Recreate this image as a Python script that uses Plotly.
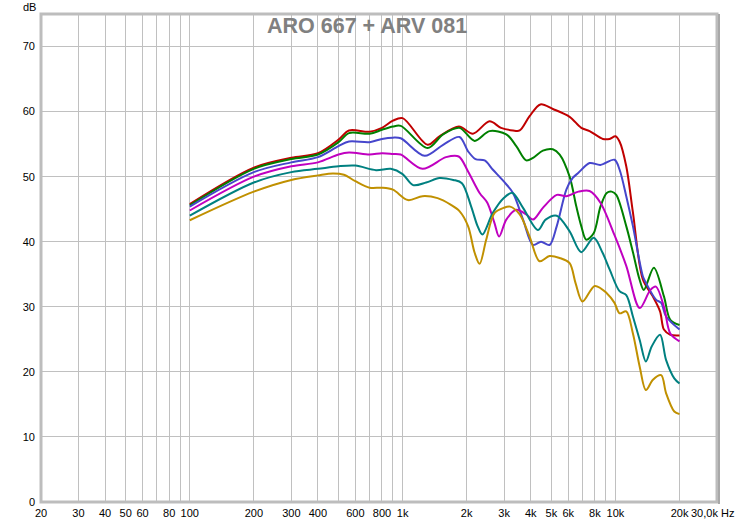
import math
import plotly.graph_objects as go

# ---------------- data ----------------
f_red = [100, 200, 300, 400, 500, 560, 700, 800, 900, 1000, 1310, 1490, 1840, 2140, 2560, 2900, 3300, 3550,
         3950, 4440, 5080, 6090, 6910, 7560, 8730, 9390, 10000, 10450, 11240, 12080, 13450, 14980, 16200,
         16900, 18100, 20000]
db_red = [45.8, 51.4, 52.9, 53.6, 55.7, 57.1, 56.9, 57.5, 58.6, 59.0, 54.9, 56.2, 57.7, 56.6, 58.5, 57.5, 57.1,
          57.1, 59.3, 61.1, 60.4, 59.2, 57.5, 57.0, 55.8, 55.8, 56.2, 55.4, 51.6, 44.5, 34.2, 31.6, 29.3,
          26.5, 25.7, 25.6]

f_green = [100, 200, 300, 400, 500, 560, 700, 800, 900, 980, 1310, 1550, 1850, 2180, 2560, 3070, 3420, 3810,
           4100, 4560, 5080, 5470, 6090, 6550, 6910, 7290, 7900, 8500, 9100, 9600, 10090, 11240, 12100,
           12980, 13600, 15150, 16900, 18100, 20000]
db_green = [45.6, 51.2, 52.7, 53.4, 55.3, 56.7, 56.6, 57.2, 57.7, 57.8, 54.4, 56.5, 57.5, 55.5, 57.0, 56.5,
            54.7, 52.5, 52.9, 54.0, 54.2, 53.4, 50.0, 45.4, 42.4, 40.3, 41.3, 45.4, 47.5, 47.7, 47.2, 42.4,
            38.3, 34.2, 32.6, 36.0, 31.6, 28.0, 27.2]

f_blue = [100, 200, 300, 400, 500, 560, 700, 800, 900, 980, 1270, 1550, 1850, 2030, 2200, 2430, 2650, 2980,
          3300, 3680, 4100, 4470, 4900, 5300, 5880, 6300, 6700, 7560, 8500, 9900, 10450, 11240, 12080,
          13450, 13900, 15500, 16400, 17300, 20000]
db_blue = [45.4, 50.7, 52.2, 53.0, 54.7, 55.4, 55.3, 55.8, 56.0, 55.9, 53.2, 54.9, 56.1, 53.9, 52.7, 52.5,
           51.1, 49.3, 47.5, 43.4, 39.5, 40.0, 39.5, 42.4, 48.0, 49.8, 50.6, 52.1, 51.8, 52.6, 51.1, 47.0,
           42.4, 34.7, 33.7, 31.1, 30.6, 28.5, 26.5]

f_magenta = [100, 200, 300, 400, 500, 560, 700, 800, 900, 980, 1240, 1600, 1835, 2030, 2300, 2500, 2700, 2840,
             3070, 3420, 3810, 4100, 4560, 5300, 5880, 6700, 7560, 8500, 9900, 11240, 13000, 14600, 15500,
             16900, 18100, 20000]
db_magenta = [44.8, 50.0, 51.6, 52.2, 53.4, 53.7, 53.4, 53.6, 53.5, 53.4, 51.2, 53.0, 53.1, 50.8, 47.5, 46.0,
              42.9, 40.8, 43.4, 44.9, 44.2, 43.4, 45.2, 47.2, 47.0, 47.7, 47.8, 46.0, 41.0, 36.3, 29.8, 32.6,
              33.1, 30.0, 25.9, 24.7]

f_teal = [100, 200, 300, 400, 500, 600, 750, 880, 1000, 1120, 1290, 1490, 1730, 1900, 2100, 2250, 2370, 2650,
          2980, 3280, 3680, 4320, 4700, 5300, 6090, 6910, 7900, 8700, 9400, 10450, 11240, 12080, 13000,
          13900, 14800, 16200, 17300, 18900, 20000]
db_teal = [44.0, 49.1, 50.7, 51.2, 51.6, 51.7, 51.0, 51.2, 50.4, 48.7, 49.1, 49.8, 49.5, 49.0, 45.4, 42.4,
           41.1, 44.4, 46.7, 47.5, 45.2, 41.8, 43.4, 44.0, 41.6, 38.4, 40.6, 38.3, 35.7, 32.4, 31.8, 28.5,
           24.9, 21.6, 23.9, 25.7, 21.8, 19.0, 18.2]

f_gold = [100, 200, 300, 400, 470, 530, 600, 700, 800, 900, 1060, 1240, 1460, 1680, 1850, 2030, 2180, 2300,
          2470, 2700, 2980, 3200, 3550, 3950, 4400, 4900, 5470, 6090, 6500, 7000, 8000, 9100, 9900, 10450,
          11240, 12080, 13000, 13900, 15000, 16400, 17300, 18900, 20000]
db_gold = [43.3, 47.7, 49.5, 50.2, 50.5, 50.3, 49.3, 48.3, 48.3, 48.0, 46.4, 47.0, 46.7, 45.7, 44.7, 42.4,
           38.3, 36.6, 40.3, 44.4, 45.2, 45.4, 44.2, 40.8, 37.0, 37.8, 37.5, 36.7, 33.6, 30.8, 33.2, 32.1,
           30.6, 29.0, 29.3, 25.9, 20.8, 17.2, 18.8, 19.5, 16.7, 13.9, 13.5]

x_tickvals = [20, 30, 40, 50, 60, 70, 80, 90, 100, 200, 300, 400, 500, 600, 700, 800, 900,
              1000, 2000, 3000, 4000, 5000, 6000, 7000, 8000, 9000, 10000, 20000]
x_ticktext = ["20", "30", "40", "50", "60", "", "80", "", "100", "200", "300", "400", "", "600", "", "800", "",
              "1k", "2k", "3k", "4k", "5k", "6k", "", "8k", "", "10k", "20k"]
y_tickvals = [0, 10, 20, 30, 40, 50, 60, 70]
title_text = "ARO 667 + ARV 081"
y_unit = "dB"
x_end_label = "30,0k Hz"

series = [
    (f_red, db_red, "#c00000"),
    (f_green, db_green, "#008000"),
    (f_blue, db_blue, "#4646cc"),
    (f_magenta, db_magenta, "#c000c0"),
    (f_teal, db_teal, "#008080"),
    (f_gold, db_gold, "#c09000"),
]

# ---------------- figure ----------------
fig = go.Figure()
for fx, fy, col in series:
    fig.add_trace(go.Scatter(x=fx, y=fy, mode="lines",
                             line=dict(color=col, width=2, shape="spline", smoothing=0.9),
                             showlegend=False, hoverinfo="x+y"))

W, H = 737, 523
L, R, T, B = 41, 20, 14, 21
fnt = "Liberation Sans, Arial, sans-serif"
fs = 11

fig.update_layout(
    width=W, height=H,
    margin=dict(l=L, r=R, t=T, b=B, pad=0),
    paper_bgcolor="white", plot_bgcolor="white",
    font=dict(family=fnt, size=fs, color="black"),
    xaxis=dict(type="log", range=[math.log10(20), math.log10(30000)],
               tickmode="array", tickvals=x_tickvals, ticktext=x_ticktext,
               showgrid=True, gridcolor="#c0c0c0", gridwidth=1,
               zeroline=False, showline=False, ticks="", automargin=False,
               ticklabelstandoff=3,
               tickfont=dict(family=fnt, size=fs, color="black")),
    yaxis=dict(range=[0, 75], tickmode="array", tickvals=y_tickvals,
               showgrid=True, gridcolor="#c0c0c0", gridwidth=1,
               zeroline=False, showline=False, ticks="", automargin=False,
               ticklabelstandoff=5,
               tickfont=dict(family=fnt, size=fs, color="black")),
)

# frame
fig.add_shape(type="rect", xref="paper", yref="paper", x0=0, y0=0, x1=1, y1=1,
              line=dict(color="#bdbdbd", width=3), layer="above")
fig.add_shape(type="line", xref="paper", yref="paper", xsizemode="pixel", xanchor=1,
              x0=2, x1=2, y0=-0.004, y1=1.0,
              line=dict(color="#a8a8a8", width=2), layer="above")

pw = W - L - R
ph = H - T - B
fig.add_annotation(text="<b>%s</b>" % title_text, xref="paper", yref="paper",
                   x=(367 - L) / pw, y=(H - B - 26) / ph, xanchor="center", yanchor="middle",
                   showarrow=False, font=dict(family=fnt, size=21.5, color="#808080"))
fig.add_annotation(text=y_unit, xref="paper", yref="paper",
                   x=(29 - L) / pw, y=(H - B - 7) / ph, xanchor="center", yanchor="middle",
                   showarrow=False, font=dict(family=fnt, size=fs, color="black"))
fig.add_annotation(text=x_end_label, xref="paper", yref="paper",
                   x=(689 - L) / pw, y=(H - B - 513) / ph, xanchor="left", yanchor="middle",
                   showarrow=False, font=dict(family=fnt, size=fs, color="black"))

fig.write_html("out.html", config={"displayModeBar": False},
               post_script="document.body.style.margin='0';document.body.style.padding='0';")
